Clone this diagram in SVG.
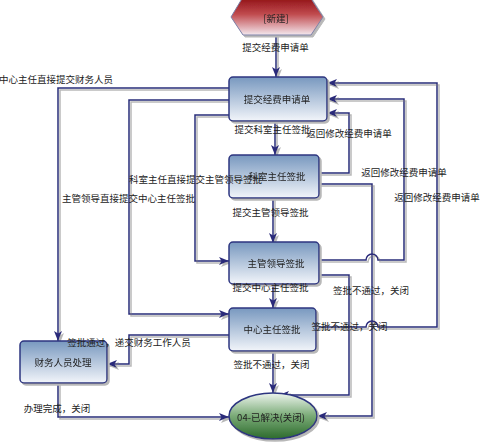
<svg xmlns="http://www.w3.org/2000/svg" width="482" height="443" viewBox="0 0 482 443">
<defs>
<linearGradient id="gBlue" x1="0" y1="0" x2="0" y2="1">
<stop offset="0" stop-color="#7898bf"/><stop offset="1" stop-color="#f2f5fa"/>
</linearGradient>
<linearGradient id="gRed" x1="0" y1="0" x2="0" y2="1">
<stop offset="0" stop-color="#8e0f12"/><stop offset="0.45" stop-color="#c04a4e"/><stop offset="1" stop-color="#f4e8ee"/>
</linearGradient>
<linearGradient id="gGreen" x1="0" y1="0" x2="0" y2="1">
<stop offset="0" stop-color="#eef5ee"/><stop offset="0.5" stop-color="#79aa76"/><stop offset="1" stop-color="#2c6a2c"/>
</linearGradient>
<filter id="sh" x="-10%" y="-10%" width="130%" height="130%">
<feDropShadow dx="2" dy="2" stdDeviation="0.6" flood-color="#b8b8b8" flood-opacity="1"/>
</filter>
<marker id="arr" markerUnits="userSpaceOnUse" markerWidth="10" markerHeight="8" refX="10" refY="4" orient="auto">
<path d="M0,0 L10,4 L0,8 L2.5,4 Z" fill="#2a2b7a"/>
</marker>
</defs>
<style>
.node rect{fill:url(#gBlue);stroke:#2d3680;stroke-width:1.5}
.t{font-family:"Noto Sans CJK SC","Noto Sans",sans-serif;font-size:9.5px;fill:#222;text-anchor:middle;dominant-baseline:central}
.lb{font-family:"Noto Sans CJK SC","Noto Sans",sans-serif;font-size:9.5px;fill:#222;dominant-baseline:central}
#connectors path{fill:none;stroke:#2a2b7a;stroke-width:1.5;marker-end:url(#arr)}
</style>
<rect width="482" height="443" fill="#ffffff"/>

<g id="connectors" filter="url(#sh)">
<path d="M276,35 L276,77"/>
<path d="M275,121 L275,155"/>
<path d="M273,198 L273,243"/>
<path d="M273,284 L273,308"/>
<path d="M273,351 L273,393"/>
<path d="M229,88 L58,88 L58,341"/>
<path d="M229,100 L129,100 L129,314 L229,314"/>
<path d="M229,115 L195,115 L195,261 L229,261"/>
<path d="M229,335 L129,335 L129,364 L107,364"/>
<path d="M58,383 L58,417 L229,417"/>
<path d="M319,173 L349,173 L349,113 L327,113"/>
<path d="M319,260 L366,260 A6,6 0 0 1 378,260 L404,260 L404,99 L327,99"/>
<path d="M316,327 L366,327 A6,6 0 0 1 378,327 L437,327 L437,83 L327,83"/>
<path d="M319,184 L372,184 L372,416 L317,416"/>
<path d="M319,275 L349,275 L349,395 L279,395"/>
</g>

<g id="start" filter="url(#sh)">
<polygon points="231,17 243,-3 310,-3 323,17 311,35 243,35" fill="url(#gRed)" stroke="#7c80a8" stroke-width="1"/>
<text class="t" x="276" y="18">[新建]</text>
</g>
<g id="n1" class="node" filter="url(#sh)">
<rect x="229" y="77" width="98" height="44" rx="4"/>
<text class="t" x="277" y="99">提交经费申请单</text>
</g>
<g id="n2" class="node" filter="url(#sh)">
<rect x="229" y="155" width="90" height="43" rx="4"/>
<text class="t" x="277" y="176">科室主任签批</text>
</g>
<g id="n3" class="node" filter="url(#sh)">
<rect x="229" y="242" width="90" height="42" rx="4"/>
<text class="t" x="276" y="263">主管领导签批</text>
</g>
<g id="n4" class="node" filter="url(#sh)">
<rect x="229" y="308" width="87" height="43" rx="4"/>
<text class="t" x="272" y="329">中心主任签批</text>
</g>
<g id="finance" class="node" filter="url(#sh)">
<rect x="20" y="341" width="87" height="42" rx="4"/>
<text class="t" x="63" y="362">财务人员处理</text>
</g>
<g id="end" filter="url(#sh)">
<ellipse cx="273" cy="416" rx="44" ry="23" fill="url(#gGreen)" stroke="#2d3680" stroke-width="1.5"/>
<text class="t" x="271" y="417">04-已解决(关闭)</text>
</g>

<g id="labels">
<text class="t" x="275.5" y="47">提交经费申请单</text>
<text class="lb" x="-1" y="79">中心主任直接提交财务人员</text>
<text class="t" x="272.5" y="129">提交科室主任签批</text>
<text class="t" x="349" y="133">返回修改经费申请单</text>
<text class="lb" x="129" y="179">科室主任直接提交主管领导签批</text>
<text class="t" x="404" y="172">返回修改经费申请单</text>
<text class="t" x="437" y="197">返回修改经费申请单</text>
<text class="lb" x="62" y="198">主管领导直接提交中心主任签批</text>
<text class="t" x="270.5" y="212">提交主管领导签批</text>
<text class="t" x="270.5" y="287">提交中心主任签批</text>
<text class="t" x="371" y="290">签批不通过，关闭</text>
<text class="t" x="349.5" y="326">签批不通过，关闭</text>
<text class="t" x="129" y="342">签批通过，递交财务工作人员</text>
<text class="t" x="271.5" y="364">签批不通过，关闭</text>
<text class="t" x="57" y="408">办理完成，关闭</text>
</g>
</svg>
